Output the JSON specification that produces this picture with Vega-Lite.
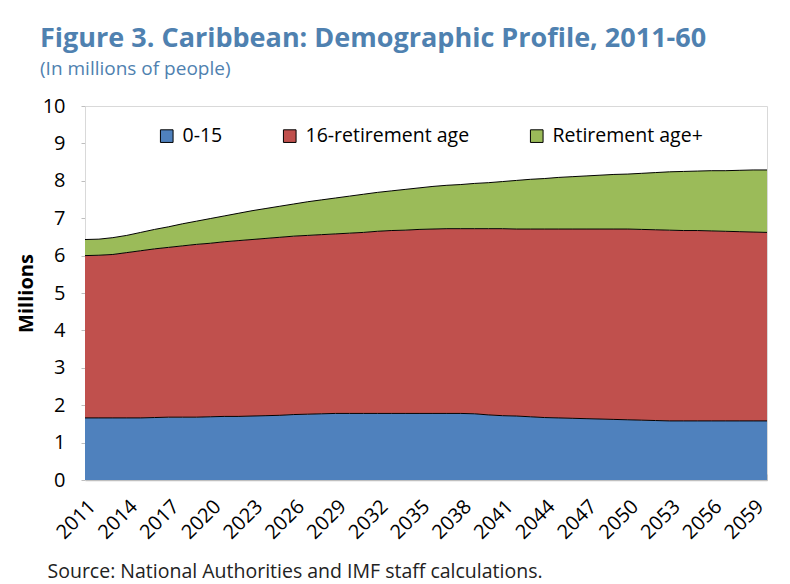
{
"$schema": "https://vega.github.io/schema/vega-lite/v6.json",
"width": 682, "height": 374,
"autosize": "none",
"padding": {"left": 85, "top": 106, "right": 23, "bottom": 104},
"background": "white",
"title": {"text": "Figure 3. Caribbean: Demographic Profile, 2011-60", "subtitle": "(In millions of people)", "anchor": "start", "frame": "group", "dx": -45, "offset": 16, "font": "Open Sans", "fontSize": 27, "fontWeight": "bold", "color": "#4f81b0", "subtitleFont": "Open Sans", "subtitleFontSize": 19, "subtitleColor": "#4f81b0", "subtitlePadding": 7},
"datasets": {"pop": [
{"year":2011,"group":"0-15","value":1.66},{"year":2011,"group":"16-retirement age","value":4.34},{"year":2011,"group":"Retirement age+","value":0.43},
{"year":2012,"group":"0-15","value":1.66},{"year":2012,"group":"16-retirement age","value":4.35},{"year":2012,"group":"Retirement age+","value":0.43},
{"year":2013,"group":"0-15","value":1.66},{"year":2013,"group":"16-retirement age","value":4.37},{"year":2013,"group":"Retirement age+","value":0.45},
{"year":2014,"group":"0-15","value":1.66},{"year":2014,"group":"16-retirement age","value":4.42},{"year":2014,"group":"Retirement age+","value":0.46},
{"year":2015,"group":"0-15","value":1.66},{"year":2015,"group":"16-retirement age","value":4.47},{"year":2015,"group":"Retirement age+","value":0.49},
{"year":2016,"group":"0-15","value":1.67},{"year":2016,"group":"16-retirement age","value":4.51},{"year":2016,"group":"Retirement age+","value":0.52},
{"year":2017,"group":"0-15","value":1.68},{"year":2017,"group":"16-retirement age","value":4.54},{"year":2017,"group":"Retirement age+","value":0.55},
{"year":2018,"group":"0-15","value":1.68},{"year":2018,"group":"16-retirement age","value":4.58},{"year":2018,"group":"Retirement age+","value":0.59},
{"year":2019,"group":"0-15","value":1.68},{"year":2019,"group":"16-retirement age","value":4.62},{"year":2019,"group":"Retirement age+","value":0.62},
{"year":2020,"group":"0-15","value":1.69},{"year":2020,"group":"16-retirement age","value":4.64},{"year":2020,"group":"Retirement age+","value":0.66},
{"year":2021,"group":"0-15","value":1.70},{"year":2021,"group":"16-retirement age","value":4.67},{"year":2021,"group":"Retirement age+","value":0.69},
{"year":2022,"group":"0-15","value":1.70},{"year":2022,"group":"16-retirement age","value":4.70},{"year":2022,"group":"Retirement age+","value":0.73},
{"year":2023,"group":"0-15","value":1.71},{"year":2023,"group":"16-retirement age","value":4.72},{"year":2023,"group":"Retirement age+","value":0.77},
{"year":2024,"group":"0-15","value":1.72},{"year":2024,"group":"16-retirement age","value":4.74},{"year":2024,"group":"Retirement age+","value":0.80},
{"year":2025,"group":"0-15","value":1.73},{"year":2025,"group":"16-retirement age","value":4.76},{"year":2025,"group":"Retirement age+","value":0.83},
{"year":2026,"group":"0-15","value":1.75},{"year":2026,"group":"16-retirement age","value":4.77},{"year":2026,"group":"Retirement age+","value":0.86},
{"year":2027,"group":"0-15","value":1.76},{"year":2027,"group":"16-retirement age","value":4.78},{"year":2027,"group":"Retirement age+","value":0.90},
{"year":2028,"group":"0-15","value":1.77},{"year":2028,"group":"16-retirement age","value":4.79},{"year":2028,"group":"Retirement age+","value":0.93},
{"year":2029,"group":"0-15","value":1.78},{"year":2029,"group":"16-retirement age","value":4.80},{"year":2029,"group":"Retirement age+","value":0.96},
{"year":2030,"group":"0-15","value":1.78},{"year":2030,"group":"16-retirement age","value":4.82},{"year":2030,"group":"Retirement age+","value":0.99},
{"year":2031,"group":"0-15","value":1.78},{"year":2031,"group":"16-retirement age","value":4.84},{"year":2031,"group":"Retirement age+","value":1.02},
{"year":2032,"group":"0-15","value":1.78},{"year":2032,"group":"16-retirement age","value":4.87},{"year":2032,"group":"Retirement age+","value":1.04},
{"year":2033,"group":"0-15","value":1.78},{"year":2033,"group":"16-retirement age","value":4.89},{"year":2033,"group":"Retirement age+","value":1.06},
{"year":2034,"group":"0-15","value":1.78},{"year":2034,"group":"16-retirement age","value":4.90},{"year":2034,"group":"Retirement age+","value":1.09},
{"year":2035,"group":"0-15","value":1.78},{"year":2035,"group":"16-retirement age","value":4.92},{"year":2035,"group":"Retirement age+","value":1.11},
{"year":2036,"group":"0-15","value":1.78},{"year":2036,"group":"16-retirement age","value":4.93},{"year":2036,"group":"Retirement age+","value":1.14},
{"year":2037,"group":"0-15","value":1.78},{"year":2037,"group":"16-retirement age","value":4.94},{"year":2037,"group":"Retirement age+","value":1.16},
{"year":2038,"group":"0-15","value":1.78},{"year":2038,"group":"16-retirement age","value":4.94},{"year":2038,"group":"Retirement age+","value":1.18},
{"year":2039,"group":"0-15","value":1.77},{"year":2039,"group":"16-retirement age","value":4.95},{"year":2039,"group":"Retirement age+","value":1.21},
{"year":2040,"group":"0-15","value":1.74},{"year":2040,"group":"16-retirement age","value":4.98},{"year":2040,"group":"Retirement age+","value":1.23},
{"year":2041,"group":"0-15","value":1.72},{"year":2041,"group":"16-retirement age","value":5.00},{"year":2041,"group":"Retirement age+","value":1.26},
{"year":2042,"group":"0-15","value":1.71},{"year":2042,"group":"16-retirement age","value":5.00},{"year":2042,"group":"Retirement age+","value":1.30},
{"year":2043,"group":"0-15","value":1.69},{"year":2043,"group":"16-retirement age","value":5.02},{"year":2043,"group":"Retirement age+","value":1.33},
{"year":2044,"group":"0-15","value":1.67},{"year":2044,"group":"16-retirement age","value":5.04},{"year":2044,"group":"Retirement age+","value":1.35},
{"year":2045,"group":"0-15","value":1.66},{"year":2045,"group":"16-retirement age","value":5.05},{"year":2045,"group":"Retirement age+","value":1.38},
{"year":2046,"group":"0-15","value":1.65},{"year":2046,"group":"16-retirement age","value":5.06},{"year":2046,"group":"Retirement age+","value":1.40},
{"year":2047,"group":"0-15","value":1.64},{"year":2047,"group":"16-retirement age","value":5.07},{"year":2047,"group":"Retirement age+","value":1.42},
{"year":2048,"group":"0-15","value":1.63},{"year":2048,"group":"16-retirement age","value":5.08},{"year":2048,"group":"Retirement age+","value":1.44},
{"year":2049,"group":"0-15","value":1.62},{"year":2049,"group":"16-retirement age","value":5.09},{"year":2049,"group":"Retirement age+","value":1.46},
{"year":2050,"group":"0-15","value":1.61},{"year":2050,"group":"16-retirement age","value":5.10},{"year":2050,"group":"Retirement age+","value":1.47},
{"year":2051,"group":"0-15","value":1.60},{"year":2051,"group":"16-retirement age","value":5.10},{"year":2051,"group":"Retirement age+","value":1.50},
{"year":2052,"group":"0-15","value":1.59},{"year":2052,"group":"16-retirement age","value":5.10},{"year":2052,"group":"Retirement age+","value":1.53},
{"year":2053,"group":"0-15","value":1.58},{"year":2053,"group":"16-retirement age","value":5.10},{"year":2053,"group":"Retirement age+","value":1.56},
{"year":2054,"group":"0-15","value":1.58},{"year":2054,"group":"16-retirement age","value":5.09},{"year":2054,"group":"Retirement age+","value":1.58},
{"year":2055,"group":"0-15","value":1.58},{"year":2055,"group":"16-retirement age","value":5.09},{"year":2055,"group":"Retirement age+","value":1.59},
{"year":2056,"group":"0-15","value":1.58},{"year":2056,"group":"16-retirement age","value":5.08},{"year":2056,"group":"Retirement age+","value":1.61},
{"year":2057,"group":"0-15","value":1.58},{"year":2057,"group":"16-retirement age","value":5.07},{"year":2057,"group":"Retirement age+","value":1.62},
{"year":2058,"group":"0-15","value":1.58},{"year":2058,"group":"16-retirement age","value":5.06},{"year":2058,"group":"Retirement age+","value":1.64},
{"year":2059,"group":"0-15","value":1.58},{"year":2059,"group":"16-retirement age","value":5.05},{"year":2059,"group":"Retirement age+","value":1.66},
{"year":2060,"group":"0-15","value":1.58},{"year":2060,"group":"16-retirement age","value":5.04},{"year":2060,"group":"Retirement age+","value":1.67}
]},
"data": {"name": "pop"},
"encoding": {
  "x": {"field": "year", "type": "quantitative", "scale": {"domain": [2011, 2060], "nice": false, "zero": false},
        "axis": {"values": [2011,2012,2013,2014,2015,2016,2017,2018,2019,2020,2021,2022,2023,2024,2025,2026,2027,2028,2029,2030,2031,2032,2033,2034,2035,2036,2037,2038,2039,2040,2041,2042,2043,2044,2045,2046,2047,2048,2049,2050,2051,2052,2053,2054,2055,2056,2057,2058,2059,2060],
                 "labelExpr": "(datum.value - 2011) % 3 == 0 ? datum.value : ''", "format": "d",
                 "labelAngle": -45, "labelFontSize": 20, "labelColor": "#000", "labelFont": "Open Sans", "labelPadding": 22, "labelOverlap": false, "labelFlush": false,
                 "tickSize": -6, "tickColor": "#bfbfbf", "domainColor": "#bfbfbf", "domainWidth": 1.5, "grid": false,
                 "title": "Source: National Authorities and IMF staff calculations.", "titleX": -38, "titleY": 97, "titleAlign": "left", "titleAnchor": "start", "titleBaseline": "alphabetic", "titleFont": "Open Sans", "titleFontSize": 19.5, "titleFontWeight": "normal", "titleColor": "#222"}},
  "y": {"field": "value", "type": "quantitative", "stack": "zero", "scale": {"domain": [0, 10], "nice": false},
        "axis": {"values": [0,1,2,3,4,5,6,7,8,9,10], "labelFontSize": 20, "labelFont": "Open Sans", "labelColor": "#000", "labelPadding": 16, "tickSize": 4, "tickColor": "#bfbfbf", "domainColor": "#d9d9d9", "grid": false,
                 "title": "Millions", "titleFont": "Open Sans", "titleFontSize": 20, "titleFontWeight": "bold", "titleColor": "#000", "titlePadding": 6}},
  "order": {"field": "group", "type": "ordinal", "sort": "ascending"}
},
"layer": [
  {"mark": {"type": "area", "opacity": 1},
   "encoding": {"color": {"field": "group", "type": "nominal",
      "scale": {"domain": ["0-15", "16-retirement age", "Retirement age+"], "range": ["#4f81bd", "#c0504d", "#9bbb59"]},
      "legend": {"title": null, "orient": "none", "legendX": 72, "legendY": 20, "direction": "horizontal", "symbolType": "square", "symbolSize": 160, "symbolStrokeColor": "#000", "symbolStrokeWidth": 1, "symbolOpacity": 1, "labelFont": "Open Sans", "labelFontSize": 19.5, "labelColor": "#000", "labelLimit": 400, "columnPadding": 57, "labelOffset": 6}}}},
  {"mark": {"type": "line", "color": "#000", "strokeWidth": 1},
   "encoding": {"detail": {"field": "group", "type": "nominal"}}}
],
"config": {"view": {"stroke": "#d9d9d9", "strokeWidth": 1}}
}
